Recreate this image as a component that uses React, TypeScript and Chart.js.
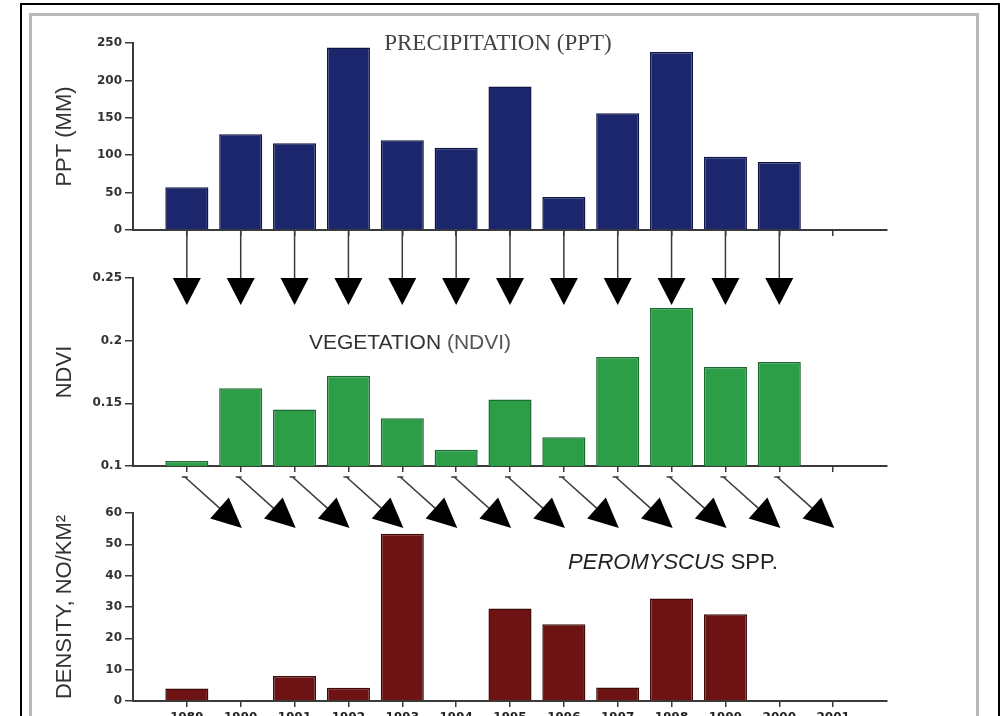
import React, { useEffect, useRef } from 'react';
import { Chart, registerables } from 'chart.js';

Chart.register(...registerables);

// ---------- data ----------
const YEARS = [1989, 1990, 1991, 1992, 1993, 1994, 1995, 1996, 1997, 1998, 1999, 2000, 2001];
const X_MIN = 1988;
const X_MAX = 2002;

const PPT_YEARS = [1989, 1990, 1991, 1992, 1993, 1994, 1995, 1996, 1997, 1998, 1999, 2000];
const PPT_VALUES = [57, 128, 116, 244, 120, 110, 192, 44, 156, 238, 98, 91];
const PPT_TICKS = [0, 50, 100, 150, 200, 250];

const NDVI_YEARS = [1989, 1990, 1991, 1992, 1993, 1994, 1995, 1996, 1997, 1998, 1999, 2000];
const NDVI_VALUES = [0.104, 0.162, 0.145, 0.172, 0.138, 0.113, 0.153, 0.123, 0.187, 0.226, 0.179, 0.183];
const NDVI_TICKS = [0.1, 0.15, 0.2, 0.25];

const DENSITY_YEARS = [1989, 1991, 1992, 1993, 1995, 1996, 1997, 1998, 1999];
const DENSITY_VALUES = [4, 8, 4.2, 53.4, 29.5, 24.5, 4.3, 32.7, 27.7];
const DENSITY_TICKS = [0, 10, 20, 30, 40, 50, 60];

const CANVAS_W = 1008;
const CANVAS_H = 760;
const AXIS_COLOR = '#3a3a3a';

type PanelSpec = {
  years: number[];
  values: number[];
  fill: string;
  border: string;
  yMin: number;
  yMax: number;
  yTicks: number[];
  yTitle: string;
  top: number;
  bottom: number;
  showXLabels: boolean;
  arrows: 'down' | 'diag' | null;
  arrowYears: number[];
};

const X_AXIS_H = 30;

function arrowPlugin(kind: 'down' | 'diag' | null, years: number[]) {
  return {
    id: 'arrows_' + (kind || 'none'),
    afterDraw(chart: any) {
      if (!kind) return;
      const ctx = chart.ctx as CanvasRenderingContext2D;
      const xs = chart.scales.x;
      const base = chart.chartArea.bottom;
      ctx.save();
      ctx.strokeStyle = '#3a3a3a';
      ctx.fillStyle = '#000';
      ctx.lineWidth = 1.5;
      years.forEach((yr) => {
        const x = xs.getPixelForValue(yr);
        if (kind === 'down') {
          const y0 = base + 1;
          const headTop = base + 48;
          const tip = base + 75;
          ctx.beginPath();
          ctx.moveTo(x, y0);
          ctx.lineTo(x, headTop + 2);
          ctx.stroke();
          ctx.beginPath();
          ctx.moveTo(x - 14, headTop);
          ctx.lineTo(x + 14, headTop);
          ctx.lineTo(x, tip);
          ctx.closePath();
          ctx.fill();
        } else {
          const sx = x - 2;
          const sy = base + 11;
          const tx = x + 55;
          const ty = base + 62;
          const dx = tx - sx;
          const dy = ty - sy;
          const len = Math.sqrt(dx * dx + dy * dy);
          const ux = dx / len;
          const uy = dy / len;
          const headLen = 30;
          const half = 14;
          const bx = tx - ux * headLen;
          const by = ty - uy * headLen;
          ctx.beginPath();
          ctx.moveTo(sx, sy);
          ctx.lineTo(bx + ux * 2, by + uy * 2);
          ctx.stroke();
          ctx.beginPath();
          ctx.moveTo(sx - 3, sy);
          ctx.lineTo(sx + 3, sy);
          ctx.stroke();
          ctx.beginPath();
          ctx.moveTo(bx - uy * half, by + ux * half);
          ctx.lineTo(bx + uy * half, by - ux * half);
          ctx.lineTo(tx, ty);
          ctx.closePath();
          ctx.fill();
        }
      });
      ctx.restore();
    },
  };
}

function Panel({ spec }: { spec: PanelSpec }) {
  const ref = useRef<HTMLCanvasElement | null>(null);
  useEffect(() => {
    if (!ref.current) return;
    const chart = new Chart(ref.current, {
      type: 'bar',
      data: {
        datasets: [
          {
            data: spec.values.map((v, i) => ({ x: spec.years[i], y: v })),
            backgroundColor: spec.fill,
            borderColor: spec.border,
            borderWidth: 1.5,
            barPercentage: 0.8,
            categoryPercentage: 1,
          } as any,
        ],
      },
      options: {
        animation: false,
        responsive: false,
        devicePixelRatio: 1,
        events: [],
        layout: {
          padding: {
            left: 0,
            right: CANVAS_W - 887,
            top: spec.top,
            bottom: CANVAS_H - spec.bottom - X_AXIS_H,
          },
        },
        plugins: {
          legend: { display: false },
          tooltip: { enabled: false },
          title: { display: false },
        },
        scales: {
          x: {
            type: 'linear',
            min: X_MIN,
            max: X_MAX,
            offset: false,
            afterBuildTicks: (s: any) => {
              s.ticks = YEARS.map((v) => ({ value: v }));
            },
            afterFit: (s: any) => {
              s.height = X_AXIS_H;
            },
            ticks: {
              display: spec.showXLabels,
              callback: (v: any) => String(v),
              font: { family: 'DejaVu Sans', weight: 'bold', size: 12 },
              color: '#222',
              padding: 4,
              maxRotation: 0,
              autoSkip: false,
            },
            grid: {
              offset: false,
              drawOnChartArea: false,
              drawTicks: true,
              tickLength: 6,
              color: AXIS_COLOR,
              lineWidth: 1.5,
            },
            border: { display: true, color: AXIS_COLOR, width: 2 },
          } as any,
          y: {
            type: 'linear',
            min: spec.yMin,
            max: spec.yMax,
            afterBuildTicks: (s: any) => {
              s.ticks = spec.yTicks.map((v) => ({ value: v }));
            },
            afterFit: (s: any) => {
              s.width = 133;
            },
            ticks: {
              callback: (v: any) => String(v),
              font: { family: 'DejaVu Sans', weight: 'bold', size: 12 },
              color: '#333',
              padding: 3,
            },
            grid: {
              drawOnChartArea: false,
              drawTicks: true,
              tickLength: 8,
              color: AXIS_COLOR,
              lineWidth: 1.5,
            },
            border: { display: true, color: AXIS_COLOR, width: 2 },
            title: {
              display: true,
              text: spec.yTitle,
              font: { family: 'Liberation Sans', size: 22 },
              color: '#333',
              padding: { top: 52, bottom: 0 },
            },
          } as any,
        },
      },
      plugins: [arrowPlugin(spec.arrows, spec.arrowYears)],
    } as any);
    return () => chart.destroy();
  }, [spec]);
  return (
    <canvas
      ref={ref}
      width={CANVAS_W}
      height={CANVAS_H}
      style={{ position: 'absolute', left: 0, top: 0, width: CANVAS_W, height: CANVAS_H }}
    />
  );
}

const PANELS: PanelSpec[] = [
  {
    years: PPT_YEARS,
    values: PPT_VALUES,
    fill: '#1b266c',
    border: '#0e1545',
    yMin: 0,
    yMax: 250,
    yTicks: PPT_TICKS,
    yTitle: 'PPT (MM)',
    top: 43,
    bottom: 230,
    showXLabels: false,
    arrows: 'down',
    arrowYears: PPT_YEARS,
  },
  {
    years: NDVI_YEARS,
    values: NDVI_VALUES,
    fill: '#2b9e47',
    border: '#1c6a30',
    yMin: 0.1,
    yMax: 0.25,
    yTicks: NDVI_TICKS,
    yTitle: 'NDVI',
    top: 278,
    bottom: 466,
    showXLabels: false,
    arrows: 'diag',
    arrowYears: NDVI_YEARS,
  },
  {
    years: DENSITY_YEARS,
    values: DENSITY_VALUES,
    fill: '#6e1313',
    border: '#3e0909',
    yMin: 0,
    yMax: 60,
    yTicks: DENSITY_TICKS,
    yTitle: 'DENSITY, NO/KM²',
    top: 513,
    bottom: 701,
    showXLabels: true,
    arrows: null,
    arrowYears: [],
  },
];

const labelBase: React.CSSProperties = {
  position: 'absolute',
  whiteSpace: 'nowrap',
  lineHeight: 1,
  transform: 'translate(-50%, -50%)',
};

export default function App() {
  return (
    <div
      style={{
        position: 'fixed',
        left: 0,
        top: 0,
        width: 1008,
        height: 716,
        overflow: 'hidden',
        background: '#fff',
      }}
    >
      <div
        style={{
          position: 'absolute',
          left: 20,
          top: 3,
          width: 976,
          height: 800,
          border: '2px solid #000',
          borderBottom: 'none',
        }}
      />
      <div
        style={{
          position: 'absolute',
          left: 29,
          top: 13,
          width: 944,
          height: 800,
          border: '3px solid #b8b8b8',
          borderBottom: 'none',
        }}
      />
      {PANELS.map((p, i) => (
        <Panel key={i} spec={p} />
      ))}
      <div
        style={{
          ...labelBase,
          left: 498,
          top: 42,
          fontFamily: '"Liberation Serif", serif',
          fontSize: 23,
          color: '#444',
        }}
      >
        PRECIPITATION (PPT)
      </div>
      <div
        style={{
          ...labelBase,
          left: 410,
          top: 341,
          fontFamily: '"Liberation Sans", sans-serif',
          fontSize: 21,
          color: '#333',
        }}
      >
        VEGETATION <span style={{ color: '#555' }}>(NDVI)</span>
      </div>
      <div
        style={{
          ...labelBase,
          left: 673,
          top: 562,
          fontFamily: '"Liberation Sans", sans-serif',
          fontSize: 22,
          color: '#222',
        }}
      >
        <i>PEROMYSCUS</i> SPP.
      </div>
    </div>
  );
}
